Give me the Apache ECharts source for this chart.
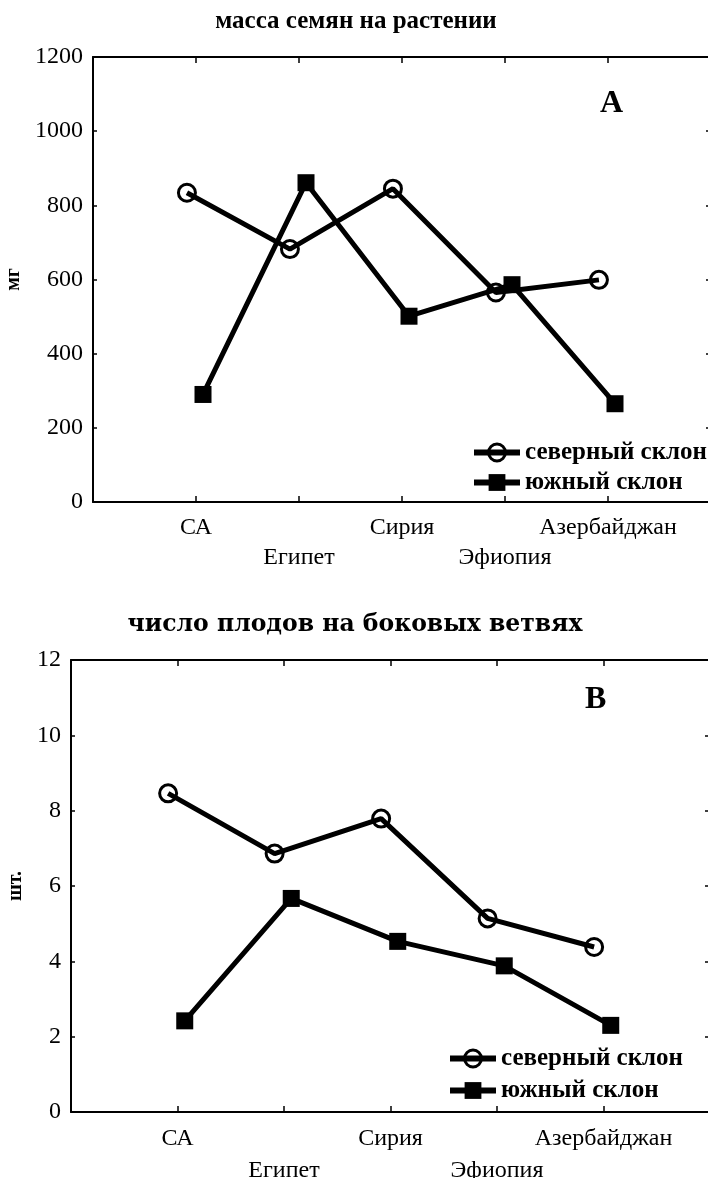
<!DOCTYPE html>
<html>
<head>
<meta charset="utf-8">
<script src="https://cdn.jsdelivr.net/npm/echarts@6/dist/echarts.min.js"></script>
<style>
html,body{margin:0;padding:0;background:#fff;}
#chart{width:708px;height:1178px;}
</style>
</head>
<body>
<div id="chart"></div>
<script>
// ---- data ----
const categories = ['СА', 'Египет', 'Сирия', 'Эфиопия', 'Азербайджан'];
const seriesNames = ['северный склон', 'южный склон'];
const seedMassNorth = [834, 682, 845, 565, 599];
const seedMassSouth = [290, 861, 501, 586, 265];
const fruitsNorth = [8.46, 6.86, 7.79, 5.14, 4.38];
const fruitsSouth = [2.42, 5.67, 4.53, 3.88, 2.30];
const yTicksA = [0, 200, 400, 600, 800, 1000, 1200];
const yTicksB = [0, 2, 4, 6, 8, 10, 12];
const titleA = 'масса семян на растении';
const titleB = 'число плодов на боковых ветвях';
const unitA = 'мг';
const unitB = 'шт.';
const panelA = 'A';
const panelB = 'B';

// ---- styling / build ----
const FONT = 'Liberation Serif';
const BLACK = '#000';
const offNorth = -0.088, offSouth = 0.068;

function pts(vals, off) { return vals.map((v, i) => [i + 1 + off, v]); }

function catLabel(v) {
  const i = Math.round(v) - 1;
  if (i < 0 || i >= categories.length) return '';
  return i % 2 === 1 ? '\n' + categories[i] : categories[i];
}

function xAxes(gi, lh) {
  const base = { gridIndex: gi, type: 'value', min: 0, max: categories.length + 1, interval: 1,
    splitLine: { show: false },
    axisLine: { show: true, onZero: false, lineStyle: { color: BLACK, width: 2 } },
    axisTick: { show: true, inside: true, length: 6, lineStyle: { color: BLACK, width: 1.5 } } };
  return [
    Object.assign({}, base, { position: 'bottom',
      axisLabel: { show: true, formatter: catLabel, fontFamily: FONT, fontSize: 24, color: BLACK,
        lineHeight: lh, margin: 11, verticalAlign: 'top' } }),
    Object.assign({}, base, { position: 'top', axisLabel: { show: false } })
  ];
}

function yAxes(gi, ticks, unit, nameGap) {
  const mn = ticks[0], mx = ticks[ticks.length - 1], iv = ticks[1] - ticks[0];
  const base = { gridIndex: gi, type: 'value', min: mn, max: mx, interval: iv,
    splitLine: { show: false },
    axisLine: { show: true, onZero: false, lineStyle: { color: BLACK, width: 2 } } };
  return [
    Object.assign({}, base, { position: 'left',
      name: unit, nameLocation: 'middle', nameGap: nameGap,
      nameTextStyle: { fontFamily: FONT, fontWeight: 'bold', fontSize: 20, color: BLACK },
      axisTick: { show: true, inside: true, length: 4, lineStyle: { color: BLACK, width: 1.5 } },
      axisLabel: { show: true, fontFamily: FONT, fontSize: 24, color: BLACK, margin: 10,
        formatter: (v) => String(v) } }),
    Object.assign({}, base, { position: 'right',
      axisTick: { show: true, inside: true, length: 5, lineStyle: { color: BLACK, width: 1.5 } },
      axisLabel: { show: false } })
  ];
}

function lineSeries(name, data, gi, symbol, filled) {
  return {
    name: name, type: 'line', xAxisIndex: gi * 2, yAxisIndex: gi * 2,
    data: data, symbol: symbol, symbolSize: 17,
    lineStyle: { color: BLACK, width: 5 },
    itemStyle: filled ? { color: BLACK } : { color: 'rgba(0,0,0,0)', borderColor: BLACK, borderWidth: 3 },
    emphasis: { disabled: true },
    z: filled ? 3 : 2
  };
}

function legend(left, top, gap) {
  return {
    left: left, top: top, padding: 0, orient: 'vertical', itemGap: gap, itemWidth: 46, itemHeight: 21,
    data: seriesNames.map((n) => ({ name: n })),
    lineStyle: { width: 6, color: BLACK },
    itemStyle: { borderWidth: 3 },
    textStyle: { fontFamily: FONT, fontWeight: 'bold', fontSize: 25, color: BLACK },
    selectedMode: false
  };
}

const chart = echarts.init(document.getElementById('chart'), null, { renderer: 'canvas' });
const option = {
  backgroundColor: '#fff',
  animation: false,
  title: [
    { text: titleA, left: 356, top: 9, padding: 0, textAlign: 'center',
      textStyle: { fontFamily: FONT, fontWeight: 'bold', fontSize: 25, color: BLACK } },
    { text: titleB, left: 355, top: 613, padding: 0, textAlign: 'center',
      textStyle: { fontFamily: 'DejaVu Serif', fontWeight: 'bold', fontSize: 23.5, color: BLACK } },
    { text: panelA, left: 600, top: 88, padding: 0,
      textStyle: { fontFamily: FONT, fontWeight: 'bold', fontSize: 32, color: BLACK } },
    { text: panelB, left: 585, top: 684, padding: 0,
      textStyle: { fontFamily: FONT, fontWeight: 'bold', fontSize: 32, color: BLACK } }
  ],
  grid: [
    { left: 93, top: 57, width: 618, height: 445, outerBoundsMode: 'none', containLabel: false },
    { left: 71, top: 660, width: 639, height: 452, outerBoundsMode: 'none', containLabel: false }
  ],
  xAxis: [].concat(xAxes(0, 30), xAxes(1, 32)),
  yAxis: [].concat(yAxes(0, yTicksA, unitA, 62), yAxes(1, yTicksB, unitB, 44)),
  legend: [ legend(471, 440, 5), legend(447, 1046, 7) ],
  series: [
    lineSeries(seriesNames[0], pts(seedMassNorth, offNorth), 0, 'circle', false),
    lineSeries(seriesNames[1], pts(seedMassSouth, offSouth), 0, 'rect', true),
    lineSeries(seriesNames[0], pts(fruitsNorth, offNorth), 1, 'circle', false),
    lineSeries(seriesNames[1], pts(fruitsSouth, offSouth), 1, 'rect', true)
  ]
};
chart.setOption(option);
</script>
</body>
</html>
